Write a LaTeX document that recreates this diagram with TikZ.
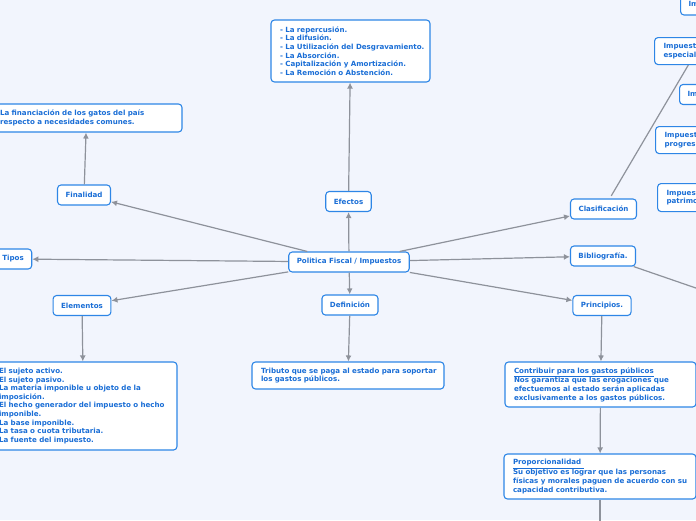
\documentclass[tikz,border=0pt]{standalone}
\usepackage{fontspec}
\setmainfont{DejaVu Sans}
\usepackage{xcolor}
\usepackage{tikz}
\usetikzlibrary{arrows.meta}

\definecolor{mapbg}{HTML}{F2F5FD}
\definecolor{boxblue}{HTML}{2E86E6}
\definecolor{txtblue}{HTML}{1A6ED6}
\definecolor{linegray}{HTML}{8E929B}

\tikzset{
  topic/.style={draw=boxblue, fill=white, rounded corners=3.5pt, line width=1.1pt,
    text=txtblue, font=\fontsize{7.1}{8.6}\selectfont\bfseries,
    inner xsep=8pt, inner ysep=0pt, minimum height=20pt},
  note/.style={topic, align=left, inner xsep=9pt, inner ysep=4pt,
    execute at begin node={\rightskip=0pt minus 40pt\relax}},
  link/.style={draw=linegray, line width=1.2pt, -{Latex[length=6pt,width=6pt]}},
  plain/.style={draw=linegray, line width=1.2pt}
}

\begin{document}
\begin{tikzpicture}[x=1pt,y=-1pt]
\fill[mapbg] (0,0) rectangle (696,520);
\useasboundingbox (0,0) rectangle (696,520);

% centre and first level
\node[topic] (pol) at (349,262) {Politica Fiscal / Impuestos};
\foreach \n/\x/\y/\t in {efectos/348.5/201.5/Efectos, finalidad/84/195/Finalidad,
    tipos/13/259/Tipos, elementos/82/305.5/Elementos, definicion/350/305/Definición,
    clasificacion/603.5/209/Clasificación, biblio/603/256/Bibliografía.,
    principios/602/305.5/Principios.} {
  \node[topic] (\n) at (\x,\y) {\t};
  \draw[link] (pol) -- (\n);
}

% notes
\node[note, text width=141pt, minimum height=62pt] (efectostxt) at (350.5,51)
  {- La repercusión.\\- La difusión.\\- La Utilización del Desgravamiento.\\
   - La Absorción.\\- Capitalización y Amortización.\\- La Remoción o Abstención.};
\node[note, text width=173pt, minimum height=28pt] (finalidadtxt) at (86.5,118)
  {La financiación de los gatos del país\\respecto a necesidades comunes.};
\node[note, text width=169pt, minimum height=88pt] (elementostxt) at (83.5,406)
  {El sujeto activo.\\El sujeto pasivo.\\La materia imponible u objeto de la\\imposición.\\
   El hecho generador del impuesto o hecho\\imponible.\\La base imponible.\\
   La tasa o cuota tributaria.\\La fuente del impuesto.};
\node[note, text width=174pt, minimum height=27pt] (definiciontxt) at (348,375.5)
  {Tributo que se paga al estado para soportar\\los gastos públicos.};
\node[note, text width=173pt, minimum height=45pt] (contribuir) at (600.5,384.5)
  {\underline{Contribuir para los gastos públicos}\\Nos garantiza que las erogaciones que\\
   efectuemos al estado serán aplicadas\\exclusivamente a los gastos públicos.};
\node[note, text width=174pt, minimum height=45pt] (proporcional) at (600,476.5)
  {\underline{Proporcionalidad\ }\\Su objetivo es lograr que las personas\\
   físicas y morales paguen de acuerdo con su\\capacidad contributiva.};

% classification (runs off the right edge)
\node[topic, anchor=west] (directos) at (680,5) {Impuestos directos};
\node[note, anchor=north west, text width=66pt, minimum height=27pt] (especiales) at (654,37)
  {Impuestos\\especiales};
\node[topic, anchor=west] (indirectos) at (679,94.5) {Impuestos indirectos};
\node[note, anchor=north west, minimum height=27pt] (progresivos) at (655,126)
  {Impuestos\\progresivos};
\node[note, anchor=north west, minimum height=28pt] (patrimoniales) at (657,183)
  {Impuestos\\patrimoniales};

\coordinate (biblioend) at (780,317);
\coordinate (sigprinc) at (600,570);

\draw[link] (efectos) -- (efectostxt);
\draw[link] (finalidad) -- (finalidadtxt);
\draw[link] (elementos) -- (elementostxt);
\draw[link] (definicion) -- (definiciontxt);
\draw[link] (principios) -- (contribuir);
\draw[link] (contribuir) -- (proporcional);
\draw[link] (proporcional) -- (sigprinc);
\draw[plain, shorten <=3pt] (clasificacion) -- (especiales);
\draw[plain] (biblio) -- (biblioend);
\end{tikzpicture}
\end{document}
